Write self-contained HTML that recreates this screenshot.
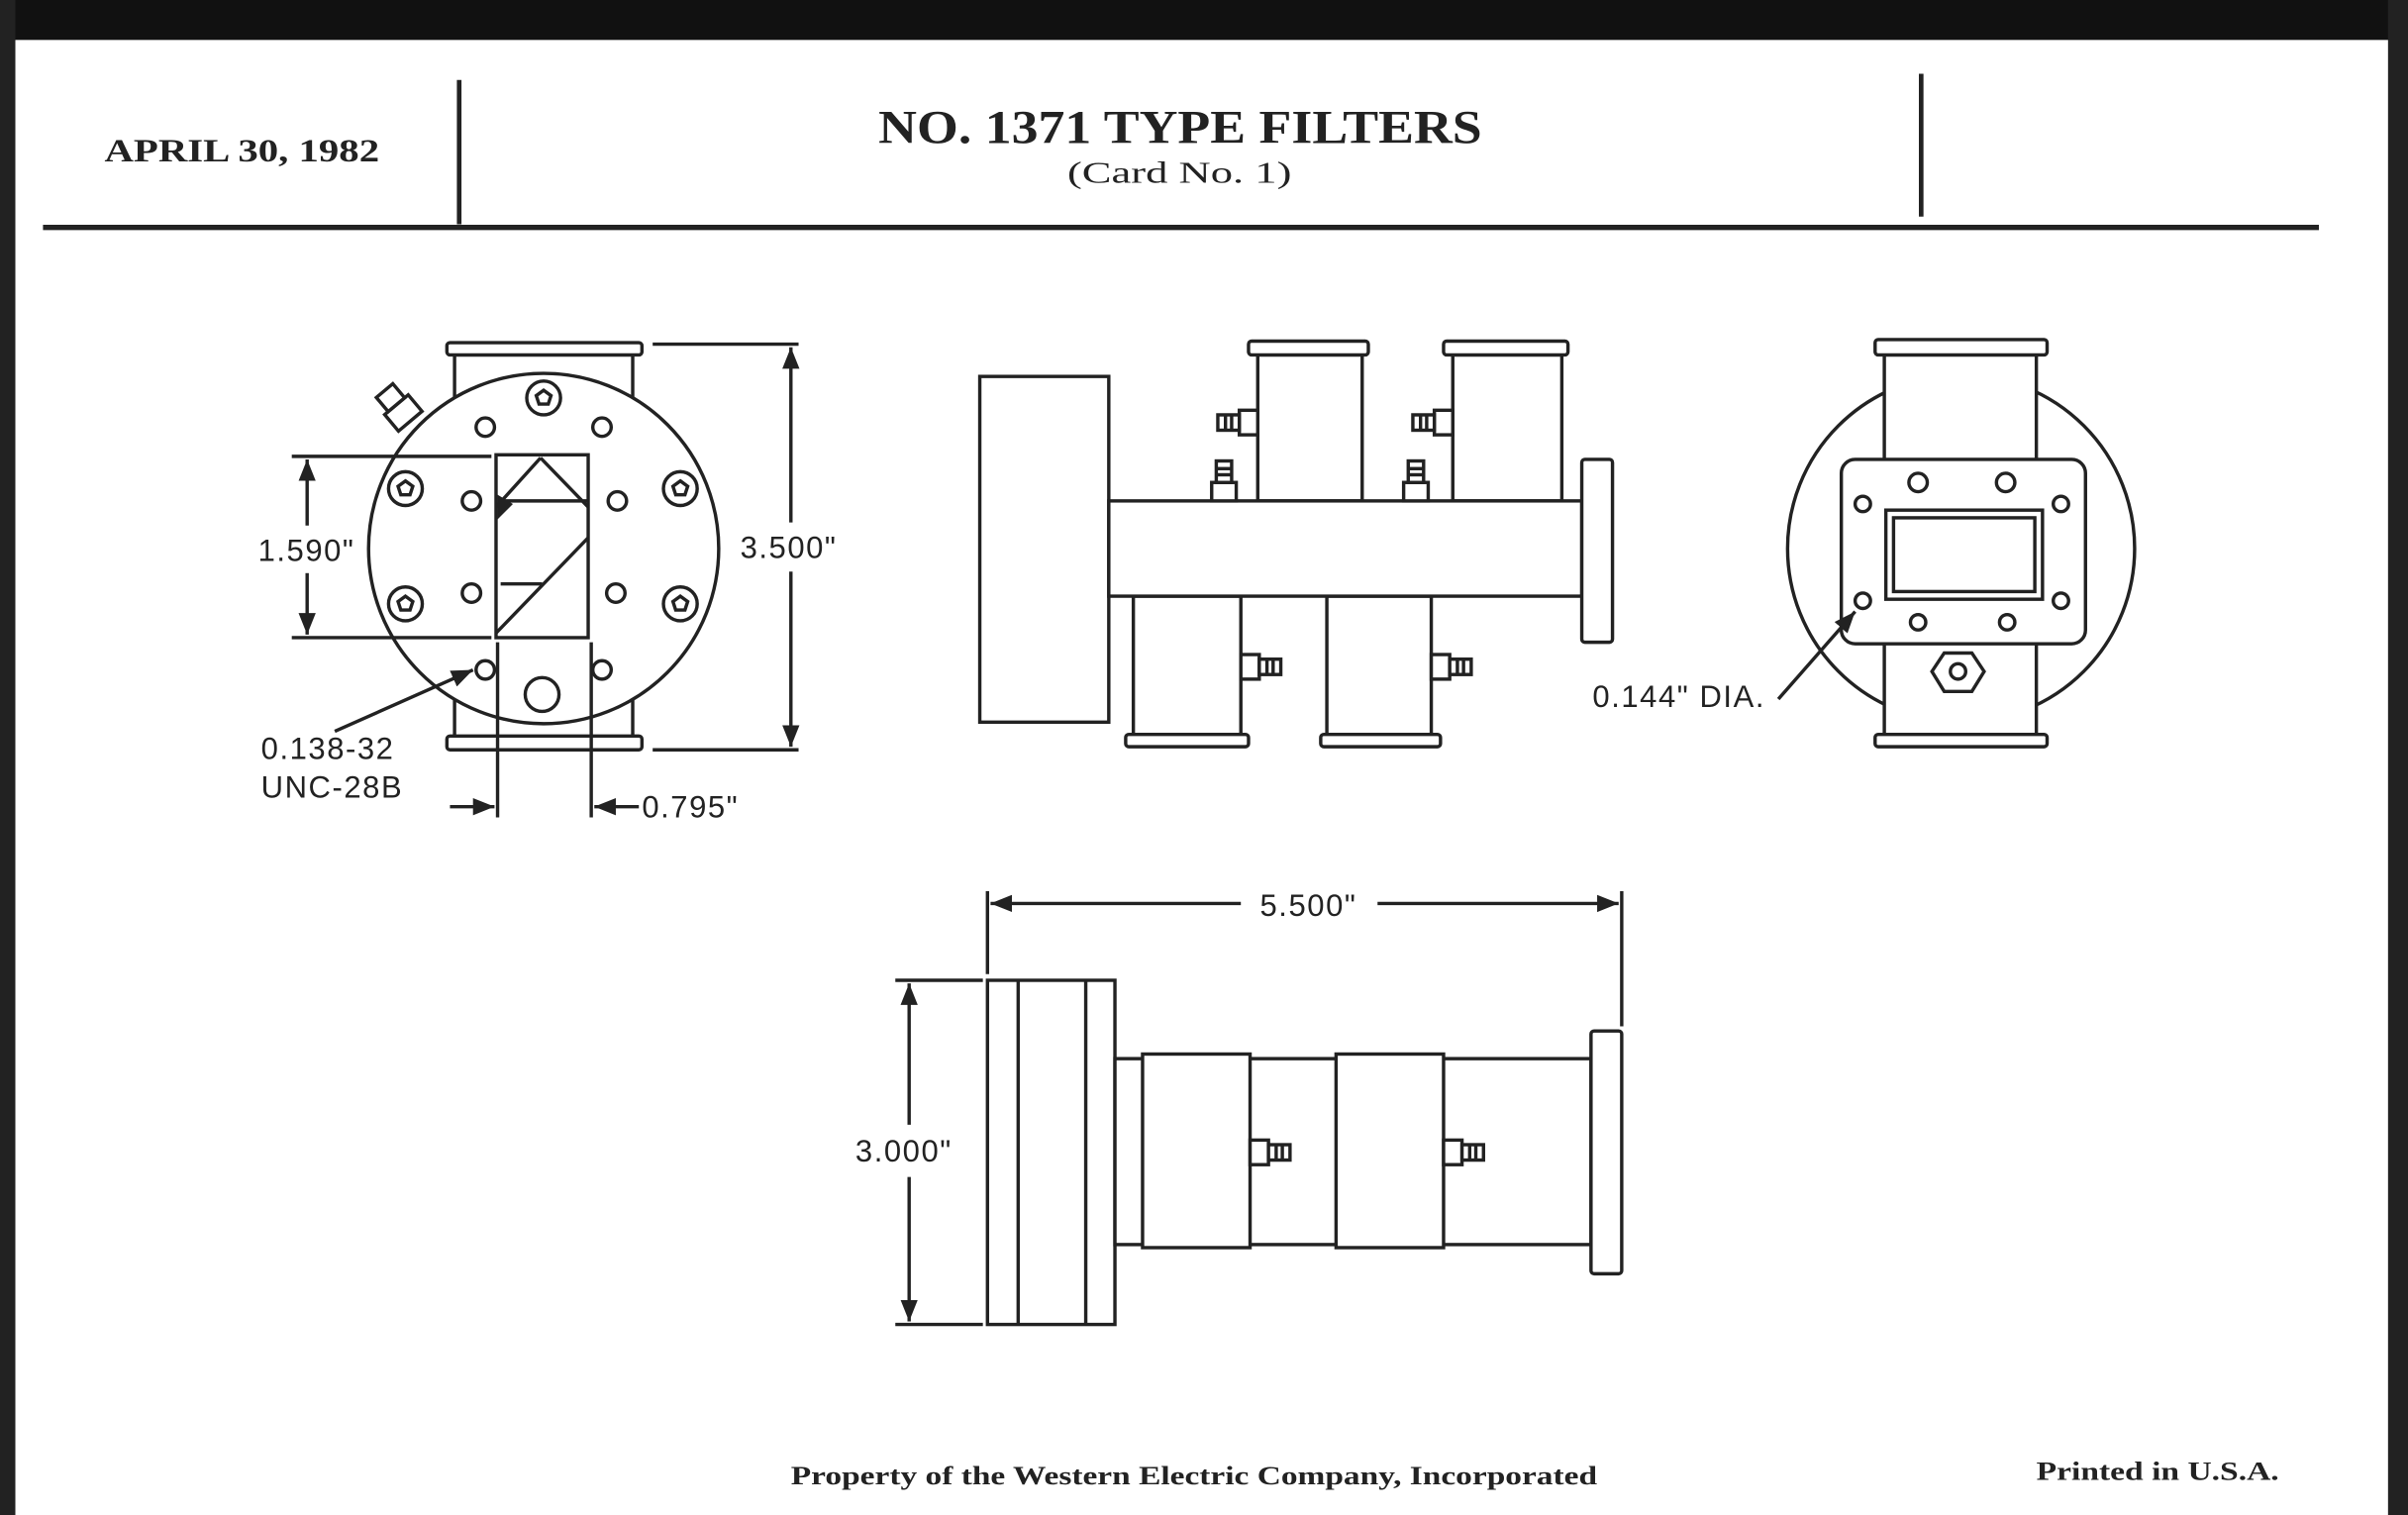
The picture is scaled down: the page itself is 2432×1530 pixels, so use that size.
<!DOCTYPE html>
<html><head><meta charset="utf-8"><style>
html,body{margin:0;padding:0;background:#fff}
svg{display:block}
.s{fill:none;stroke:#222;stroke-width:2.2}
.w{fill:#fff;stroke:#222;stroke-width:2.2}
.t{font-family:"Liberation Sans",sans-serif;font-size:20px;fill:#222;letter-spacing:1px}
.h{font-family:"Liberation Serif",serif;font-weight:bold;fill:#222}
</style></head><body>
<svg width="2432" height="1530" viewBox="0 0 1568 986" preserveAspectRatio="none" xmlns="http://www.w3.org/2000/svg">
<defs>
<marker id="b" viewBox="0 0 10 10" refX="10" refY="5" markerWidth="14" markerHeight="14" orient="auto-start-reverse" markerUnits="userSpaceOnUse"><path d="M0,1 L10,5 L0,9 z" fill="#222"/></marker>
<g id="star"><circle r="11" class="w"/><path d="M0,-5 L4.8,-1.5 L3,4 L-3,4 L-4.8,-1.5 Z" class="s" stroke-width="1.8"/></g>
<g id="hole"><circle r="6" class="w" stroke-width="3"/></g>
<g id="nutH"><rect x="0" y="-8" width="12" height="16" class="w"/><rect x="-14" y="-5" width="14" height="10" class="w"/><line x1="-9" y1="-5" x2="-9" y2="5" class="s" stroke-width="1.5"/><line x1="-5" y1="-5" x2="-5" y2="5" class="s" stroke-width="1.5"/></g>
</defs>
<rect width="1568" height="986" fill="#fff"/>
<rect x="0" y="0" width="1568" height="26" fill="#111"/>
<rect x="0" y="0" width="10" height="986" fill="#222"/>
<rect x="1555" y="0" width="13" height="986" fill="#222"/>

<!-- header -->
<text x="68" y="105" class="h" font-size="21" textLength="179" lengthAdjust="spacingAndGlyphs">APRIL 30, 1982</text>
<line x1="299" y1="52" x2="299" y2="146" stroke="#222" stroke-width="3"/>
<line x1="1251" y1="48" x2="1251" y2="141" stroke="#222" stroke-width="3"/>
<text x="572" y="93" class="h" font-size="31" textLength="393" lengthAdjust="spacingAndGlyphs">NO. 1371 TYPE FILTERS</text>
<text x="695" y="119" class="h" font-size="20" style="font-weight:normal" textLength="146" lengthAdjust="spacingAndGlyphs">(Card No. 1)</text>
<line x1="28" y1="148" x2="1510" y2="148" stroke="#222" stroke-width="3.5"/>

<!-- left view -->
<rect x="296" y="231" width="116" height="249" class="s"/>
<rect x="291" y="223" width="127" height="8" rx="2" class="w"/>
<rect x="291" y="479" width="127" height="9" rx="2" class="w"/>
<circle cx="354" cy="357" r="114" class="w"/>
<g transform="rotate(-40 262 268)"><rect x="252" y="262" width="20" height="14" class="w"/><rect x="255" y="250" width="14" height="12" class="w"/></g>
<rect x="323" y="296" width="60" height="119" class="w"/>
<path d="M323,330 L352,298 M383,330 L352,298 M383,350 L323,412 M326,326 L383,326 M326,380 L353,380" class="s"/>
<path d="M324,322 L334,328 L324,338 Z" fill="#222"/>
<use href="#star" x="354" y="259"/><use href="#star" x="264" y="318"/><use href="#star" x="443" y="318"/><use href="#star" x="264" y="393"/><use href="#star" x="443" y="393"/>
<use href="#hole" x="316" y="278"/><use href="#hole" x="392" y="278"/><use href="#hole" x="307" y="326"/><use href="#hole" x="402" y="326"/><use href="#hole" x="307" y="386"/><use href="#hole" x="401" y="386"/><use href="#hole" x="316" y="436"/><use href="#hole" x="392" y="436"/>
<circle cx="353" cy="452" r="11" class="w" stroke-width="2.6"/>
<!-- dims left -->
<line x1="190" y1="297" x2="320" y2="297" class="s"/>
<line x1="190" y1="415" x2="320" y2="415" class="s"/>
<line x1="200" y1="342" x2="200" y2="299" class="s" marker-end="url(#b)"/>
<line x1="200" y1="373" x2="200" y2="413" class="s" marker-end="url(#b)"/>
<text x="168" y="365" class="t">1.590"</text>
<line x1="425" y1="224" x2="520" y2="224" class="s"/>
<line x1="425" y1="488" x2="520" y2="488" class="s"/>
<line x1="515" y1="340" x2="515" y2="226" class="s" marker-end="url(#b)"/>
<line x1="515" y1="372" x2="515" y2="486" class="s" marker-end="url(#b)"/>
<text x="482" y="363" class="t">3.500"</text>
<line x1="218" y1="476" x2="308" y2="436" class="s" marker-end="url(#b)"/>
<text x="170" y="494" class="t">0.138-32</text>
<text x="170" y="519" class="t">UNC-28B</text>
<line x1="324" y1="418" x2="324" y2="532" class="s"/>
<line x1="385" y1="418" x2="385" y2="532" class="s"/>
<line x1="293" y1="525" x2="322" y2="525" class="s" marker-end="url(#b)"/>
<line x1="416" y1="525" x2="387" y2="525" class="s" marker-end="url(#b)"/>
<text x="418" y="532" class="t">0.795"</text>

<!-- middle view -->
<rect x="638" y="245" width="84" height="225" class="w"/>
<rect x="819" y="231" width="68" height="95" class="w"/>
<rect x="813" y="222" width="78" height="9" rx="2" class="w"/>
<rect x="946" y="231" width="71" height="95" class="w"/>
<rect x="940" y="222" width="81" height="9" rx="2" class="w"/>
<rect x="738" y="388" width="70" height="90" class="w"/>
<rect x="733" y="478" width="80" height="8" rx="2" class="w"/>
<rect x="864" y="388" width="68" height="90" class="w"/>
<rect x="860" y="478" width="78" height="8" rx="2" class="w"/>
<rect x="722" y="326" width="308" height="62" class="w"/>
<rect x="1030" y="299" width="20" height="119" rx="2" class="w"/>
<use href="#nutH" x="807" y="275"/><use href="#nutH" x="934" y="275"/>
<g transform="translate(797,326) rotate(90)"><use href="#nutH" x="-12" y="0"/></g>
<g transform="translate(922,326) rotate(90)"><use href="#nutH" x="-12" y="0"/></g>
<g transform="translate(820,434) scale(-1,1)"><use href="#nutH" x="0" y="0"/></g>
<g transform="translate(944,434) scale(-1,1)"><use href="#nutH" x="0" y="0"/></g>

<!-- right view -->
<circle cx="1277" cy="357" r="113" class="w"/>
<rect x="1227" y="231" width="99" height="249" class="w"/>
<rect x="1221" y="221" width="112" height="10" rx="2" class="w"/>
<rect x="1221" y="478" width="112" height="8" rx="2" class="w"/>
<rect x="1199" y="299" width="159" height="120" rx="9" class="w"/>
<rect x="1228" y="332" width="102" height="58" class="w"/>
<rect x="1233" y="337" width="92" height="48" class="s"/>
<use href="#hole" x="1249" y="314"/><use href="#hole" x="1306" y="314"/>
<g stroke-width="1.8"><circle cx="1213" cy="328" r="5" class="w"/><circle cx="1342" cy="328" r="5" class="w"/><circle cx="1213" cy="391" r="5" class="w"/><circle cx="1342" cy="391" r="5" class="w"/><circle cx="1249" cy="405" r="5" class="w"/><circle cx="1307" cy="405" r="5" class="w"/></g>
<path d="M1266,425 L1284,425 L1292,437 L1284,450 L1266,450 L1258,437 Z" class="w"/>
<circle cx="1275" cy="437" r="5" class="w"/>
<line x1="1158" y1="455" x2="1208" y2="398" class="s" marker-end="url(#b)"/>
<text x="1037" y="460" class="t">0.144" DIA.</text>

<!-- bottom view -->
<rect x="643" y="638" width="83" height="224" class="w"/>
<line x1="663" y1="638" x2="663" y2="862" class="s"/>
<line x1="707" y1="638" x2="707" y2="862" class="s"/>
<rect x="726" y="689" width="310" height="121" class="w"/>
<rect x="744" y="686" width="70" height="126" class="w"/>
<rect x="870" y="686" width="70" height="126" class="w"/>
<rect x="1036" y="671" width="20" height="158" rx="2" class="w"/>
<g transform="translate(826,750) scale(-1,1)"><use href="#nutH" x="0" y="0"/></g>
<g transform="translate(952,750) scale(-1,1)"><use href="#nutH" x="0" y="0"/></g>
<line x1="643" y1="580" x2="643" y2="634" class="s"/>
<line x1="1056" y1="580" x2="1056" y2="668" class="s"/>
<line x1="808" y1="588" x2="645" y2="588" class="s" marker-end="url(#b)"/>
<line x1="897" y1="588" x2="1054" y2="588" class="s" marker-end="url(#b)"/>
<text x="852" y="596" class="t" text-anchor="middle">5.500"</text>
<line x1="583" y1="638" x2="640" y2="638" class="s"/>
<line x1="583" y1="862" x2="640" y2="862" class="s"/>
<line x1="592" y1="732" x2="592" y2="640" class="s" marker-end="url(#b)"/>
<line x1="592" y1="766" x2="592" y2="860" class="s" marker-end="url(#b)"/>
<text x="557" y="756" class="t">3.000"</text>

<!-- footer -->
<text x="515" y="966" class="h" font-size="17" textLength="525" lengthAdjust="spacingAndGlyphs">Property of the Western Electric Company, Incorporated</text>
<text x="1326" y="963" class="h" font-size="17" textLength="158" lengthAdjust="spacingAndGlyphs">Printed in U.S.A.</text>
</svg>
</body></html>
